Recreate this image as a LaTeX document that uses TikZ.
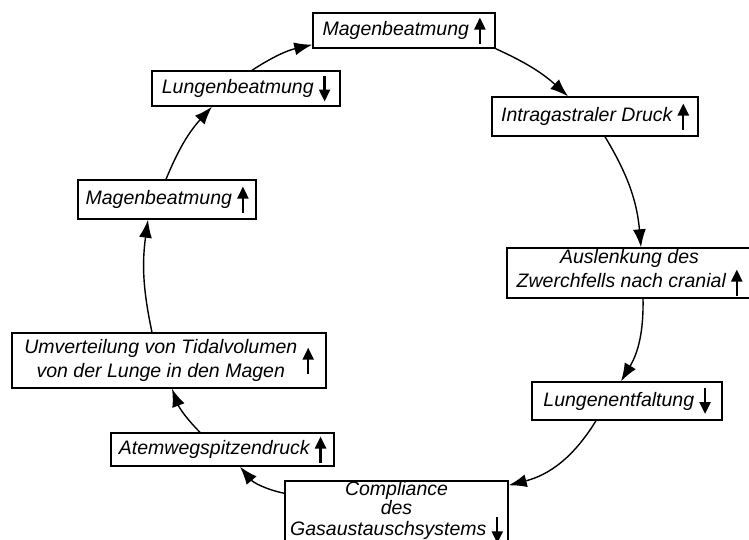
\documentclass[tikz,border=0pt]{standalone}
\usepackage{fontspec}
\setmainfont{Liberation Sans}
\usetikzlibrary{arrows.meta}
\newcommand{\hoch}{\tikz[baseline=0pt]\draw[line width=2.3pt,-{Triangle[length=12pt,width=11pt]}] (0pt,-8pt) -- (0pt,18pt);}
\newcommand{\runter}{\tikz[baseline=0pt]\draw[line width=2.3pt,-{Triangle[length=12pt,width=11pt]}] (0pt,18pt) -- (0pt,-8pt);}

\begin{document}
\begin{tikzpicture}[x=1pt,y=1pt,>={Latex[length=18pt,width=13pt]}]
\tikzstyle{kasten}=[draw,line width=1.4pt,inner sep=0pt,align=center,font=\fontsize{19.5}{21}\selectfont\itshape]
\tikzstyle{pfeil}=[->,line width=1.4pt]
\useasboundingbox (0,0) rectangle (749,-539);
\node[kasten,minimum width=182pt,minimum height=35pt] (mb1) at (404,-30.5) {Magenbeatmung \hoch};
\node[kasten,minimum width=206pt,minimum height=39pt] (intra) at (595,-116.5) {Intragastraler Druck \hoch};
\node[kasten,minimum width=245pt,minimum height=50pt] (ausl) at (629.5,-273) {Auslenkung des\\Zwerchfells nach cranial \hoch};
\node[kasten,minimum width=190pt,minimum height=38pt] (lunge) at (627,-401) {Lungenentfaltung \runter};
\node[kasten,minimum width=223pt,minimum height=64pt,font=\fontsize{19.5}{17}\selectfont\itshape] (compl) at (396.5,-513) {Compliance\\des\\Gasaustauschsystems \runter};
\node[kasten,minimum width=223pt,minimum height=33pt] (atem) at (222.5,-449.5) {Atemwegspitzendruck \hoch};
\node[kasten,minimum width=314pt,minimum height=55pt,font=\fontsize{19.5}{24}\selectfont\itshape] (umv) at (169,-360.5) {\begin{tabular}{@{}c@{}}Umverteilung von Tidalvolumen\\von der Lunge in den Magen\end{tabular} \hoch};
\node[kasten,minimum width=178pt,minimum height=39pt] (mb2) at (167,-199.5) {Magenbeatmung \hoch};
\node[kasten,minimum width=188pt,minimum height=35pt] (lb) at (246,-88.5) {Lungenbeatmung \runter};
\draw[pfeil] (mb1.south east) to[bend left=9] ([xshift=-27pt]intra.north);
\draw[pfeil] ([xshift=10pt]intra.south) to[bend left=13] ([xshift=11.5pt]ausl.north);
\draw[pfeil] ([xshift=13.5pt]ausl.south) to[bend left=16] ([xshift=-6pt]lunge.north);
\draw[pfeil] ([xshift=-31pt]lunge.south) to[bend left=22] ([yshift=-5pt]compl.north east);
\draw[pfeil] ([yshift=-13pt]compl.north west) to[bend left=19] ([xshift=17.5pt]atem.south);
\draw[pfeil] ([xshift=-22.5pt]atem.north) to[bend left=12] ([xshift=3pt]umv.south);
\draw[pfeil] ([xshift=-17pt]umv.north) to[bend left=10] ([xshift=-19pt]mb2.south);
\draw[pfeil] ([xshift=-1pt]mb2.north) to[bend left=10] ([xshift=-34pt]lb.south);
\draw[pfeil] ([xshift=6pt]lb.north) to[bend left=10] ([yshift=4pt]mb1.south west);
\end{tikzpicture}
\end{document}
